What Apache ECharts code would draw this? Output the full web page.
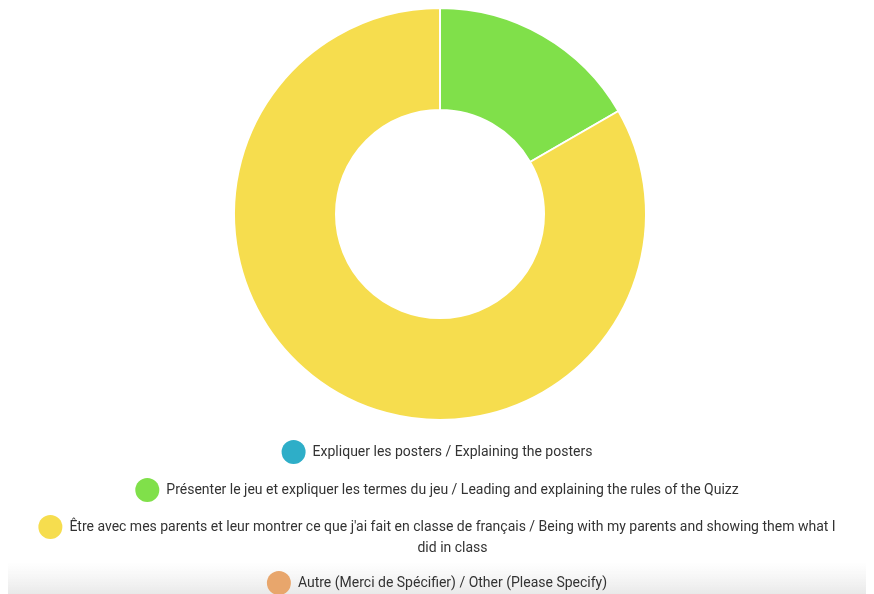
<!DOCTYPE html>
<html><head><meta charset="utf-8">
<script src="https://cdn.jsdelivr.net/npm/echarts@6/dist/echarts.min.js"></script>
<style>html,body{margin:0;padding:0;background:#fff}#c{width:874px;height:594px}</style>
</head><body><div id="c"></div>
<script>
const categories = [
  "Expliquer les posters / Explaining the posters",
  "Présenter le jeu et expliquer les termes du jeu / Leading and explaining the rules of the Quizz",
  "Être avec mes parents et leur montrer ce que j'ai fait en classe de français / Being with my parents and showing them what I did in class",
  "Autre (Merci de Spécifier) / Other (Please Specify)"
];
const values = [0, 1, 5, 0];
const colors = ["#2eaec8", "#80e04a", "#f6dd4e", "#e8a66c"];

const chart = echarts.init(document.getElementById('c'));
const font = 'Roboto';
const iconCenters = [452, 490, 527, 583];
function legendFor(i) {
  const base = {
    data: [categories[i]], orient: 'horizontal', left: 'center', padding: [0, 7, 0, 0],
    icon: 'circle', itemWidth: 24, itemHeight: 24,
    selectedMode: false,
    itemStyle: { borderWidth: 0 },
    textStyle: { fontFamily: font, fontSize: 14, color: '#333', padding: [0, 0, 0, 2] }
  };
  if (i === 2) {
    base.formatter = function () {
      return '{a|Être avec mes parents et leur montrer ce que j\'ai fait en classe de français / Being with my parents and showing them what I}\n{a|did in class}';
    };
    base.textStyle.padding = [21, 0, 0, 2];
    base.textStyle.rich = { a: { align: 'center', fontFamily: font, fontSize: 14, color: '#333', lineHeight: 21 } };
  }
  base.top = iconCenters[i] - 12;
  return base;
}
chart.setOption({
  animation: false,
  color: colors,
  legend: [0, 1, 2, 3].map(legendFor),
  graphic: [{
    type: 'rect', z: -1, silent: true,
    shape: { x: 8, y: 562, width: 858, height: 40 },
    style: { fill: new echarts.graphic.LinearGradient(0, 0, 0, 1, [
      { offset: 0, color: 'rgba(235,235,235,0)' },
      { offset: 1, color: 'rgba(225,225,225,1)' }]) }
  }],
  series: [{
    type: 'pie',
    center: [440, 214],
    radius: [104, 206],
    startAngle: 90,
    clockwise: true,
    label: { show: false },
    labelLine: { show: false },
    itemStyle: { borderColor: '#fff', borderWidth: 2 },
    data: categories.map((c, i) => ({ name: c, value: values[i] }))
  }]
});
</script></body></html>
